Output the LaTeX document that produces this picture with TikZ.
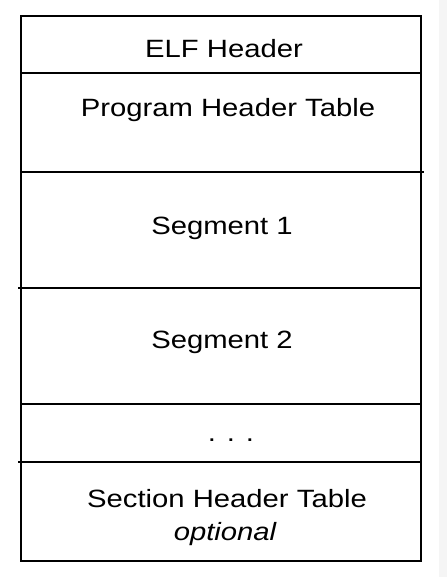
\documentclass[tikz,border=0pt]{standalone}
\usepackage{fontspec}
\setmainfont{Liberation Sans}
\usetikzlibrary{positioning}

% Text is stretched sideways in the picture
\newcommand{\wide}[1]{\scalebox{1.17}[1]{#1}}

\begin{document}
\begin{tikzpicture}[x=1pt,y=-1pt,
  label/.style={anchor=base,inner sep=0pt,font=\fontsize{25}{30}\selectfont}]

% Page size and page edge strip
\useasboundingbox (0,0) rectangle (447,577);
\fill[black!4] (439,0) rectangle (447,577);

% Left and right edge of the table
\def\l{21}
\def\r{421}

% Outer corners
\coordinate (A) at (\l,16);
\coordinate (B) at (\r,16);
\coordinate (C) at (\r,561);
\coordinate (D) at (\l,561);

% Row dividers
\draw[line width=1.2pt] (\l,73) -- (\r,73);
\draw[line width=1.2pt] (\l,172) -- (424,172);
\draw[line width=1.2pt] (18,288) -- (\r,288);
\draw[line width=1.2pt] (\l,404) -- (\r,404);
\draw[line width=1.2pt] (18,462) -- (\r,462);

% Outer box
\draw[line width=2.4pt] (A) -- (B) -- (C) -- (D) -- cycle;

% Labels
\node[label] (elf) at (224,58) {\wide{ELF Header}};
\node[label] (pht) at (228,117) {\wide{Program Header Table}};
\node[label] (segone) at (222,234) {\wide{Segment 1}};
\node[label] (segtwo) at (222,348) {\wide{Segment 2}};
\node[label] (dots) at (231,441) {\wide{. . .}};
\node[label] (sht) at (227,507) {\wide{Section Header Table}};
\node[label] (opt) at (225,540) {\wide{\itshape optional}};

\end{tikzpicture}
\end{document}
